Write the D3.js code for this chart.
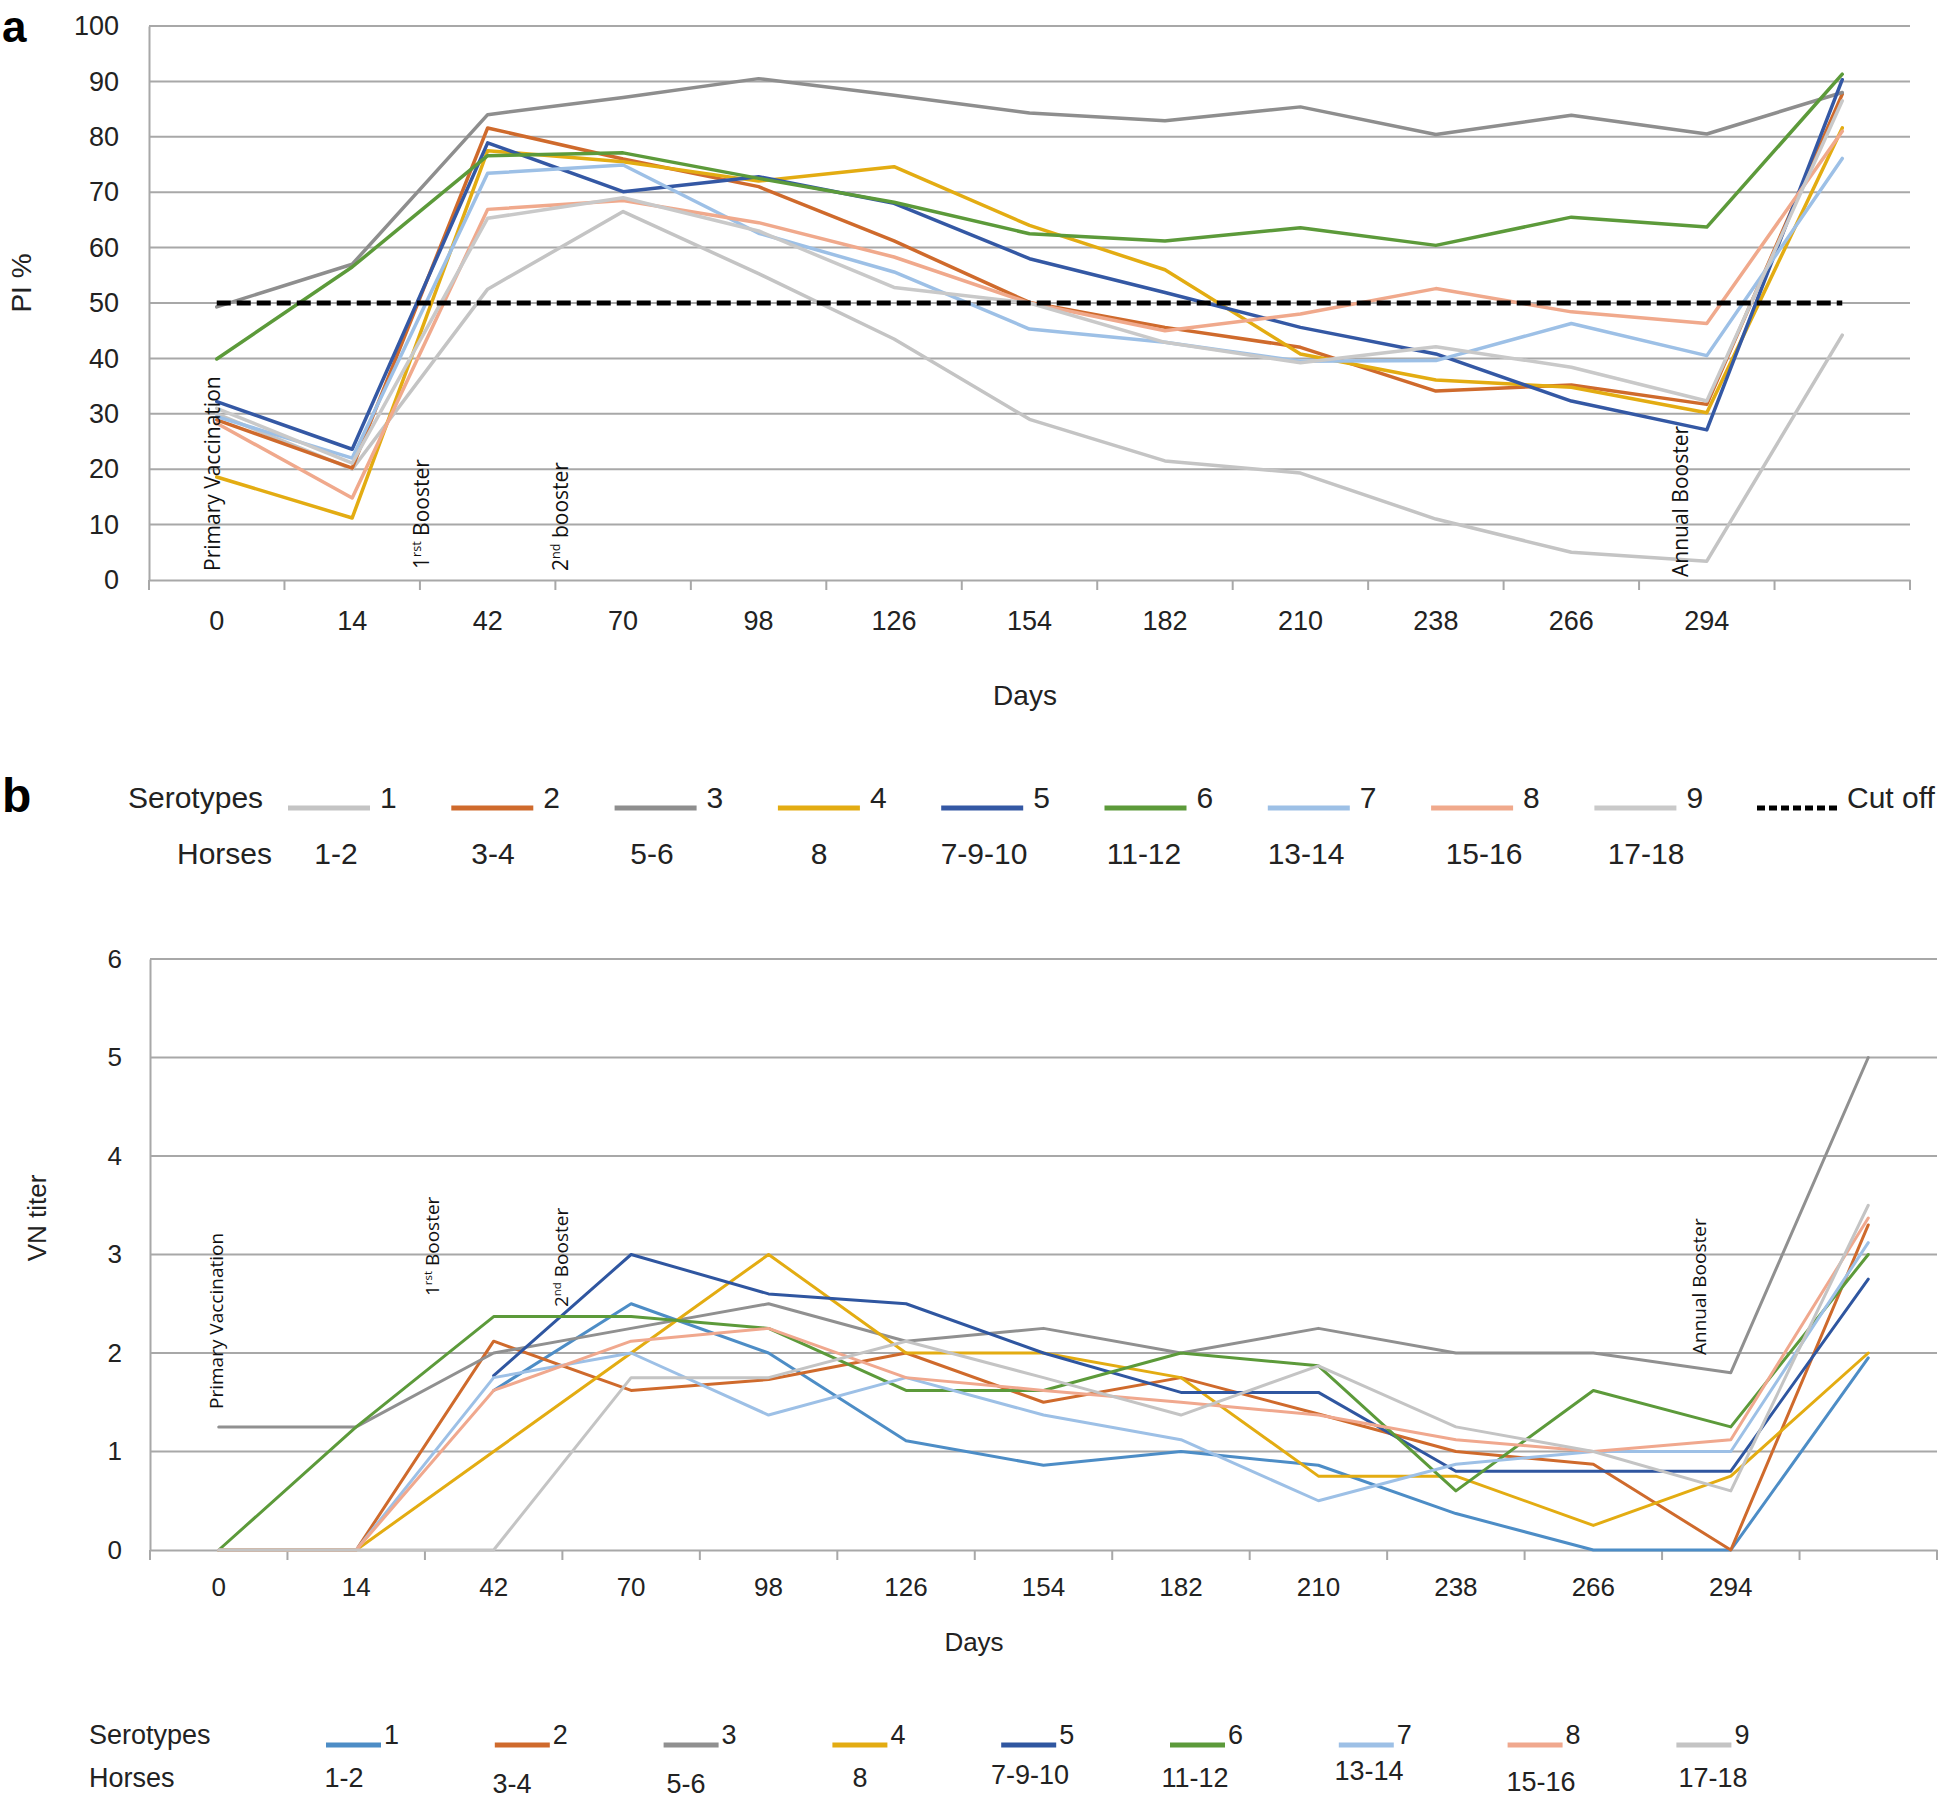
<!DOCTYPE html>
<html><head><meta charset="utf-8">
<script src="https://cdn.jsdelivr.net/npm/d3@7"></script>
<style>body{margin:0;background:#fff}svg{display:block}</style>
</head><body>
<svg id="chart" width="1946" height="1799"></svg>
<script>
// ---------- data ----------
const dayLabels = ["0","14","42","70","98","126","154","182","210","238","266","294",""];
const serotypes = ["1","2","3","4","5","6","7","8","9"];
const horses = ["1-2","3-4","5-6","8","7-9-10","11-12","13-14","15-16","17-18"];
const piTicks = [0,10,20,30,40,50,60,70,80,90,100];
const vnTicks = [0,1,2,3,4,5,6];
const cutOff = 50;

// Panel a : PI %
const piS1 = [30, 20, 52.5, 66.5, 55.3, 43.5, 29, 21.5, 19.3, 11, 5, 3.4, 44.2];
const piS2 = [28.9, 20.2, 81.6, 76, 71, 61.2, 50.1, 45.6, 42, 34.1, 35.2, 31.7, 87.7];
const piS3 = [49.3, 57, 84, 87.1, 90.5, 87.5, 84.3, 82.9, 85.4, 80.4, 83.9, 80.5, 88];
const piS4 = [18.6, 11.2, 77.5, 75.5, 72, 74.6, 64, 56, 40.8, 36.1, 34.8, 30.2, 81.6];
const piS5 = [32.2, 23.6, 78.9, 70.1, 72.8, 68, 58, 51.9, 45.6, 40.8, 32.3, 27.1, 90.3];
const piS6 = [39.9, 56.5, 76.6, 77.1, 72.5, 68.2, 62.5, 61.2, 63.6, 60.4, 65.5, 63.7, 91.3];
const piS7 = [29.5, 22, 73.4, 74.9, 62.6, 55.6, 45.3, 42.9, 39.5, 39.6, 46.3, 40.5, 76.1];
const piS8 = [28.3, 14.8, 66.9, 68.5, 64.5, 58.3, 50, 45, 48, 52.6, 48.4, 46.3, 81];
const piS9 = [31, 21.1, 65.3, 69, 63, 52.8, 50, 42.9, 39.2, 42.1, 38.4, 32.3, 86.5];

// Panel b : VN titer
const vnS1 = [null, null, 1.62, 2.5, 2.0, 1.11, 0.86, 1.0, 0.86, 0.37, 0, 0, 1.95];
const vnS2 = [0, 0, 2.12, 1.62, 1.73, 2.0, 1.5, 1.75, 1.38, 1.0, 0.87, 0, 3.3];
const vnS3 = [1.25, 1.25, 2.0, 2.25, 2.5, 2.12, 2.25, 2.0, 2.25, 2.0, 2.0, 1.8, 5.0];
const vnS4 = [0, 0, 1.0, 2.0, 3.0, 2.0, 2.0, 1.75, 0.75, 0.75, 0.25, 0.75, 2.0];
const vnS5 = [null, null, 1.77, 3.0, 2.6, 2.5, 2.0, 1.6, 1.6, 0.8, 0.8, 0.8, 2.75];
const vnS6 = [0, 1.25, 2.37, 2.37, 2.25, 1.62, 1.62, 2.0, 1.87, 0.6, 1.62, 1.25, 3.0];
const vnS7 = [0, 0, 1.75, 2.0, 1.37, 1.75, 1.37, 1.12, 0.5, 0.87, 1.0, 1.0, 3.12];
const vnS8 = [0, 0, 1.62, 2.12, 2.25, 1.75, 1.62, 1.5, 1.37, 1.12, 1.0, 1.12, 3.37];
const vnS9 = [0, 0, 0, 1.75, 1.75, 2.12, 1.75, 1.37, 1.87, 1.25, 1.0, 0.6, 3.5];

const piColors = ["#c4c4c4","#cf6a2c","#8e8e8e","#e3ac12","#3458a4","#5c9a3a","#9dc0e6","#f0a98c","#c9c9c9"];
const vnColors = ["#4d8dc6","#cf6a2c","#909090","#e3ac12","#2f56a0","#5c9a3a","#9dc0e6","#f0a88e","#c4c4c4"];

const piSeries = [piS1,piS2,piS3,piS4,piS5,piS6,piS7,piS8,piS9];
const vnSeries = [vnS1,vnS2,vnS3,vnS4,vnS5,vnS6,vnS7,vnS8,vnS9];

// ---------- drawing ----------
const svg = d3.select("#chart");
const FONT = "'Liberation Sans', Arial, sans-serif";
const AFONT = "'Open Sans', 'DejaVu Sans', sans-serif";
const GRID = "#a8a8a8";

function panel(cfg){
  const g = svg.append("g");
  const x = d3.scaleBand().domain(d3.range(dayLabels.length)).range([cfg.x0, cfg.x1]).padding(0);
  const y = d3.scaleLinear().domain([cfg.ticks[0], cfg.ticks[cfg.ticks.length-1]]).range([cfg.yb, cfg.yt]);
  const bw = x.bandwidth();

  // gridlines
  g.append("g").selectAll("line").data(cfg.ticks.filter(t=>t!==cfg.ticks[0])).join("line")
    .attr("x1", cfg.x0).attr("x2", cfg.x1)
    .attr("y1", d=>y(d)).attr("y2", d=>y(d))
    .attr("stroke", GRID).attr("stroke-width", 2);

  // y axis
  const ya = g.append("g").attr("transform", `translate(${cfg.x0},0)`)
    .call(d3.axisLeft(y).tickValues(cfg.ticks).tickFormat(d=>String(d)).tickSize(0).tickPadding(cfg.yPad));
  ya.select(".domain").attr("stroke", GRID).attr("stroke-width", 2);
  ya.selectAll("text").attr("font-family", FONT).attr("font-size", cfg.tickFs).attr("fill", "#222");

  // x axis
  const xa = g.append("g").attr("transform", `translate(0,${cfg.yb})`)
    .call(d3.axisBottom(x).tickFormat(i=>dayLabels[i]).tickSize(0).tickPadding(cfg.xPad));
  xa.select(".domain").attr("stroke", GRID).attr("stroke-width", 2);
  xa.selectAll("text").attr("font-family", FONT).attr("font-size", cfg.tickFs).attr("fill", "#222");
  // category boundary tick marks
  const bounds = d3.range(dayLabels.length+1).map(i => cfg.x0 + i*x.step());
  g.append("g").selectAll("line").data(bounds).join("line")
    .attr("x1", d=>d).attr("x2", d=>d).attr("y1", cfg.yb).attr("y2", cfg.yb+10)
    .attr("stroke", GRID).attr("stroke-width", 2);

  // series lines
  const line = d3.line().defined(v=>v!=null).x((v,i)=>x(i)+bw/2).y(v=>y(v));
  g.append("g").selectAll("path").data(cfg.series).join("path")
    .attr("d", d=>line(d)).attr("fill","none")
    .attr("stroke", (d,i)=>cfg.colors[i]).attr("stroke-width", cfg.lw)
    .attr("stroke-linejoin","round").attr("stroke-linecap","round");

  // cut-off line
  if (cfg.cut != null){
    const cutData = dayLabels.map(()=>cfg.cut);
    g.append("path").attr("d", line(cutData)).attr("fill","none")
      .attr("stroke","#000").attr("stroke-width",5).attr("stroke-dasharray","14,6");
  }

  // annotations
  cfg.notes.forEach(n=>{
    const t = g.append("text").attr("transform",`translate(${n.x},${n.y}) rotate(-90)`)
      .attr("font-family", AFONT).attr("font-size", cfg.noteFs).attr("fill","#111");
    t.append("tspan").text(n.a);
    if (n.sup){
      t.append("tspan").attr("font-size", cfg.noteFs*0.6).attr("dy", -cfg.noteFs*0.38).text(n.sup);
      t.append("tspan").attr("dy", cfg.noteFs*0.38).text(n.b);
    }
  });

  // axis titles
  g.append("text").attr("x", cfg.daysX).attr("y", cfg.daysY).attr("text-anchor","middle")
    .attr("font-family", FONT).attr("font-size", cfg.titleFs).attr("fill","#222").text("Days");
  g.append("text").attr("transform",`translate(${cfg.yTitleX},${cfg.yTitleY}) rotate(-90)`)
    .attr("text-anchor","middle").attr("font-family", FONT).attr("font-size", cfg.titleFs)
    .attr("fill","#222").text(cfg.yTitle);

  // legend
  const L = cfg.legend;
  g.append("text").attr("x", L.serX).attr("y", L.rowY).attr("font-family", FONT)
    .attr("font-size", L.fs).attr("fill","#222").text("Serotypes");
  g.append("text").attr("x", L.serX + L.horsesDx).attr("y", L.row2Y).attr("font-family", FONT)
    .attr("font-size", L.fs).attr("fill","#222").text("Horses");
  serotypes.forEach((s,i)=>{
    const lx = L.x0 + i*L.step;
    g.append("line").attr("x1", lx).attr("x2", lx+L.len).attr("y1", L.lineY).attr("y2", L.lineY)
      .attr("stroke", cfg.colors[i]).attr("stroke-width", L.lw);
    g.append("text").attr("x", lx+L.len+L.gap).attr("y", L.rowY).attr("font-family", FONT)
      .attr("font-size", L.fs).attr("fill","#222").text(s);
    g.append("text").attr("x", L.hx[i]).attr("y", L.row2Y + (L.hdy ? L.hdy[i] : 0))
      .attr("text-anchor","middle").attr("font-family", FONT)
      .attr("font-size", L.fs).attr("fill","#222").text(horses[i]);
  });
  if (L.cut){
    g.append("line").attr("x1", L.cut.x).attr("x2", L.cut.x+L.cut.len).attr("y1", L.lineY).attr("y2", L.lineY)
      .attr("stroke","#000").attr("stroke-width",5).attr("stroke-dasharray","8,4");
    g.append("text").attr("x", L.cut.x+L.cut.len+8).attr("y", L.rowY).attr("font-family", FONT)
      .attr("font-size", L.fs).attr("fill","#222").text("Cut off");
  }
}

// Panel a
panel({
  x0:149, x1:1910, yb:580, yt:26, ticks:piTicks, series:piSeries, colors:piColors, lw:3.5,
  cut:cutOff, tickFs:27, xPad:31, yPad:30, titleFs:28, noteFs:21,
  daysX:1025, daysY:705, yTitle:"PI %", yTitleX:31, yTitleY:283,
  notes:[
    {x:220, y:571, a:"Primary Vaccination"},
    {x:429, y:569, a:"1", sup:"rst", b:" Booster"},
    {x:568, y:571, a:"2", sup:"nd", b:" booster"},
    {x:1688, y:577, a:"Annual Booster"}
  ],
  legend:{serX:128, horsesDx:49, rowY:808, row2Y:864, lineY:808, fs:30, x0:288, step:163.3, len:82, gap:10, lw:5,
    hx:[336,493,652,819,984,1144,1306,1484,1646],
    cut:{x:1757, len:82}}
});

// Panel b
panel({
  x0:150, x1:1937, yb:1550, yt:959, ticks:vnTicks, series:vnSeries, colors:vnColors, lw:3,
  cut:null, tickFs:26, xPad:28, yPad:28, titleFs:26, noteFs:19,
  daysX:974, daysY:1651, yTitle:"VN titer", yTitleX:46, yTitleY:1218,
  notes:[
    {x:223, y:1409, a:"Primary Vaccination"},
    {x:439, y:1296, a:"1", sup:"rst", b:" Booster"},
    {x:568, y:1307, a:"2", sup:"nd", b:" Booster"},
    {x:1706, y:1355, a:"Annual Booster"}
  ],
  legend:{serX:89, horsesDx:0, rowY:1744, row2Y:1787, lineY:1745, fs:27, x0:326, step:168.8, len:55, gap:3, lw:5,
    hx:[344,512,686,860,1030,1195,1369,1541,1713],
    hdy:[0,6,6,0,-3,0,-7,4,0]}
});

// panel letters
svg.append("text").attr("x",2).attr("y",42).attr("font-family",FONT).attr("font-weight","bold")
  .attr("font-size",44).attr("fill","#000").text("a");
svg.append("text").attr("x",2).attr("y",812).attr("font-family",FONT).attr("font-weight","bold")
  .attr("font-size",48).attr("fill","#000").text("b");
</script>
</body></html>
